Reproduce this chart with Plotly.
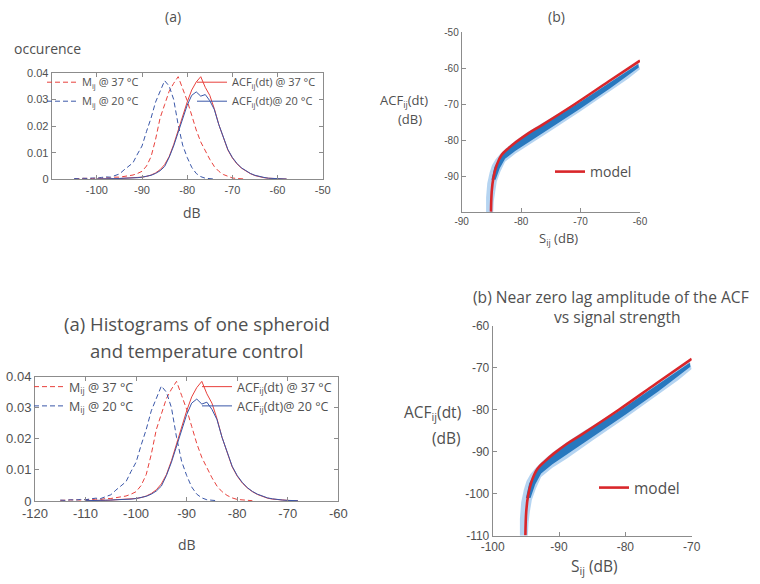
import plotly.graph_objects as go

# ---------------- data ----------------
# histogram bin centres (dB) for the upper and lower histogram panels
db_top = list(range(-105, -57))
db_bottom = list(range(-115, -67))

m_37 = [0.0002, 0.0003, 0.0002, 0.0004, 0.0003, 0.0005, 0.0004, 0.0006, 0.0005, 0.0008,
        0.0008, 0.0011, 0.0013, 0.0016, 0.0022, 0.0030, 0.0050, 0.0085, 0.0150, 0.0230,
        0.0280, 0.0330, 0.0360, 0.0385, 0.0340, 0.0295, 0.0240, 0.0185, 0.0140, 0.0105,
        0.0075, 0.0048, 0.0030, 0.0018, 0.0010, 0.0005, 0.0003, 0.0002, 0.0001, None,
        None, None, None, None, None, None, None, None]
m_20 = [0.0003, 0.0002, 0.0004, 0.0003, 0.0005, 0.0004, 0.0007, 0.0009, 0.0008, 0.0013,
        0.0020, 0.0035, 0.0048, 0.0062, 0.0095, 0.0125, 0.0180, 0.0230, 0.0290, 0.0330,
        0.0370, 0.0350, 0.0300, 0.0205, 0.0128, 0.0082, 0.0045, 0.0022, 0.0010, 0.0004,
        0.0002, 0.0001, None, None, None, None, None, None, None, None,
        None, None, None, None, None, None, None, None]
acf_37 = [None, None, None, None, None, 0.0001, 0.0002, 0.0001, 0.0002, 0.0002,
          0.0003, 0.0003, 0.0004, 0.0005, 0.0006, 0.0008, 0.0011, 0.0016, 0.0024, 0.0036,
          0.0055, 0.0085, 0.0130, 0.0185, 0.0240, 0.0290, 0.0335, 0.0365, 0.0385, 0.0345,
          0.0315, 0.0265, 0.0205, 0.0155, 0.0110, 0.0080, 0.0058, 0.0042, 0.0030, 0.0021,
          0.0014, 0.0009, 0.0006, 0.0004, 0.0003, 0.0002, 0.0001, 0.0001]
acf_20 = [None, None, None, None, None, 0.0001, 0.0001, 0.0002, 0.0002, 0.0003,
          0.0003, 0.0004, 0.0004, 0.0005, 0.0006, 0.0008, 0.0011, 0.0015, 0.0022, 0.0032,
          0.0048, 0.0082, 0.0125, 0.0178, 0.0230, 0.0278, 0.0315, 0.0328, 0.0312, 0.0318,
          0.0295, 0.0262, 0.0205, 0.0158, 0.0112, 0.0082, 0.0060, 0.0043, 0.0031, 0.0022,
          0.0015, 0.0010, 0.0007, 0.0004, 0.0003, 0.0002, 0.0001, 0.0001]

hist_yticks = [0, 0.01, 0.02, 0.03, 0.04]
hist_yticktext = ["0", "0.01", "0.02", "0.03", "0.04"]
hist_xticks_top = [-100, -90, -80, -70, -60, -50]
hist_xticks_bottom = [-120, -110, -100, -90, -80, -70, -60]
sc_xticks_top = [-90, -80, -70, -60]
sc_yticks_top = [-90, -80, -70, -60, -50]
sc_xticks_bottom = [-100, -90, -80, -70]
sc_yticks_bottom = [-110, -100, -90, -80, -70, -60]

# model curve, upper scatter panel
model_s_top = [-85.07, -84.95, -84.68, -84.1, -83.27, -82.15, -80.75, -78.8, -76.5, -70.93, -65.3, -60.0]
model_acf_top = [-99.9, -94.35, -90.6, -86.9, -84.1, -82.3, -80.4, -78.1, -75.8, -69.95, -63.7, -57.9]
# model curve, lower scatter panel
model_s_bottom = [-95.07, -94.95, -94.68, -94.1, -93.27, -92.15, -90.75, -88.8, -86.5, -80.93, -75.3, -70.0]
model_acf_bottom = [-109.9, -104.35, -100.6, -96.9, -94.1, -92.3, -90.4, -88.1, -85.8, -79.95, -73.7, -67.9]

# envelope of the measured point cloud (outer sparse region and dense core)
cloud_s_top = [-85.9, -85.9, -85.7, -85.3, -84.9, -84.3, -83.6, -82.5, -81.0, -79.0, -76.5, -73.0, -70.0, -65.0, -60.3,
               -60.0, -62.0, -65.0, -70.0, -75.0, -78.8, -81.0, -82.7, -83.5, -84.1, -84.4, -84.6, -84.7]
cloud_acf_top = [-100, -96, -92, -89, -87, -85.3, -84.0, -82.2, -80.2, -77.9, -75.3, -71.9, -68.7, -63.3, -58.4,
                 -60.3, -62.9, -66.3, -72.0, -77.4, -81.6, -83.8, -86.0, -88.8, -91.5, -94.3, -97.0, -100]
core_s_top = [-85.0, -84.5, -83.6, -82.5, -81.0, -79.0, -76.5, -73.0, -70.0, -65.0, -60.3,
              -60.2, -65.0, -70.0, -75.0, -78.8, -81.0, -82.7, -83.6, -84.3]
core_acf_top = [-91.0, -87.5, -85.0, -82.8, -80.8, -78.4, -75.9, -72.3, -69.3, -63.9, -58.8,
                -59.8, -65.6, -71.2, -76.6, -80.8, -83.0, -85.2, -87.8, -91.0]

cloud_s_bottom = [-95.9, -95.9, -95.7, -95.3, -94.9, -94.3, -93.6, -92.5, -91.0, -89.0, -86.5, -83.0, -80.0, -75.0, -70.3,
                  -70.0, -72.0, -75.0, -80.0, -85.0, -88.8, -91.0, -92.7, -93.5, -94.1, -94.4, -94.6, -94.7]
cloud_acf_bottom = [-110, -106, -102, -99, -97, -95.3, -94.0, -92.2, -90.2, -87.9, -85.3, -81.9, -78.7, -73.3, -68.4,
                    -70.3, -72.9, -76.3, -82.0, -87.4, -91.6, -93.8, -96.0, -98.8, -101.5, -104.3, -107.0, -110]
core_s_bottom = [-95.0, -94.5, -93.6, -92.5, -91.0, -89.0, -86.5, -83.0, -80.0, -75.0, -70.3,
                 -70.2, -75.0, -80.0, -85.0, -88.8, -91.0, -92.7, -93.6, -94.3]
core_acf_bottom = [-101.0, -97.5, -95.0, -92.8, -90.8, -88.4, -85.9, -82.3, -79.3, -73.9, -68.8,
                   -69.8, -75.6, -81.2, -86.6, -90.8, -93.0, -95.2, -97.8, -101.0]

# ---------------- styling ----------------
W, H = 760, 584
RED = "#E8413C"
BLUE = "#3A57A8"
MODEL_RED = "#D9262A"
CLOUD_OUT = "rgba(90,160,225,0.45)"
CLOUD_CORE = "#2878BE"
TXT = "#505050"
AXC = "#8c8c8c"
TFONT = "Open Sans, Lato, sans-serif"
NFONT = "Liberation Sans, Arial, sans-serif"


def fx(x):
    return x / W


def fy(y):
    return 1 - y / H


def labels(vals):
    return [str(v) for v in vals]


fig = go.Figure()

# histogram panels
for xa, ya, dbs, lg in [("x", "y", db_top, ("legend", "legend2")),
                        ("x3", "y3", db_bottom, ("legend3", "legend4"))]:
    fig.add_trace(go.Scatter(x=dbs, y=m_37, mode="lines", xaxis=xa, yaxis=ya,
                             line=dict(color=RED, width=1, dash="5px,3px"),
                             name="M<sub>ij</sub> @ 37 °C", legend=lg[0]))
    fig.add_trace(go.Scatter(x=dbs, y=m_20, mode="lines", xaxis=xa, yaxis=ya,
                             line=dict(color=BLUE, width=1, dash="5px,3px"),
                             name="M<sub>ij</sub> @ 20 °C", legend=lg[0]))
    fig.add_trace(go.Scatter(x=dbs, y=acf_37, mode="lines", xaxis=xa, yaxis=ya,
                             line=dict(color=RED, width=1),
                             name="ACF<sub>ij</sub>(dt) @ 37 °C", legend=lg[1]))
    fig.add_trace(go.Scatter(x=dbs, y=acf_20, mode="lines", xaxis=xa, yaxis=ya,
                             line=dict(color=BLUE, width=1),
                             name="ACF<sub>ij</sub>(dt)@ 20 °C", legend=lg[1]))

# scatter panels
for xa, ya, cs, ca, ks, ka, ms, ma, lg in [
        ("x2", "y2", cloud_s_top, cloud_acf_top, core_s_top, core_acf_top, model_s_top, model_acf_top, "legend5"),
        ("x4", "y4", cloud_s_bottom, cloud_acf_bottom, core_s_bottom, core_acf_bottom, model_s_bottom, model_acf_bottom, "legend6")]:
    fig.add_trace(go.Scatter(x=cs, y=ca, mode="lines", fill="toself", fillcolor=CLOUD_OUT,
                             line=dict(width=0, color=CLOUD_OUT), xaxis=xa, yaxis=ya,
                             showlegend=False, hoverinfo="skip"))
    fig.add_trace(go.Scatter(x=ks, y=ka, mode="lines", fill="toself", fillcolor=CLOUD_CORE,
                             line=dict(width=0, color=CLOUD_CORE), xaxis=xa, yaxis=ya,
                             showlegend=False, hoverinfo="skip"))
    fig.add_trace(go.Scatter(x=ms, y=ma, mode="lines", line=dict(color=MODEL_RED, width=2.6, shape="spline"),
                             xaxis=xa, yaxis=ya, name="model", legend=lg))

box_axis = dict(showline=True, linecolor=AXC, linewidth=1, mirror="ticks", ticks="inside",
                ticklen=4, tickcolor=AXC, showgrid=False, zeroline=False, fixedrange=True,
                automargin=False)
open_axis = dict(showline=True, linecolor=AXC, linewidth=1, mirror=False, ticks="inside",
                 ticklen=4, tickcolor=AXC, showgrid=False, zeroline=False, fixedrange=True,
                 automargin=False)

fig.update_layout(
    template="none",
    width=W, height=H, autosize=False,
    margin=dict(l=0, r=0, t=0, b=0, pad=0, autoexpand=False),
    paper_bgcolor="white", plot_bgcolor="white",
    font=dict(family=TFONT, color=TXT),
    xaxis=dict(box_axis, domain=[fx(51.7), fx(322.7)], range=[-110, -50], anchor="y",
               tickvals=hist_xticks_top, ticktext=labels(hist_xticks_top),
               tickfont=dict(family=NFONT, size=11, color=TXT)),
    yaxis=dict(box_axis, domain=[fy(179.3), fy(72.7)], range=[0, 0.04], anchor="x",
               tickvals=hist_yticks, ticktext=hist_yticktext, tickfont=dict(family=NFONT, size=11, color=TXT)),
    xaxis2=dict(open_axis, domain=[fx(461.7), fx(640)], range=[-90, -60], anchor="y2",
                tickvals=sc_xticks_top, ticktext=labels(sc_xticks_top),
                tickfont=dict(family=NFONT, size=10, color=TXT)),
    yaxis2=dict(open_axis, domain=[fy(212), fy(32.3)], range=[-100, -50], anchor="x2",
                tickvals=sc_yticks_top, ticktext=labels(sc_yticks_top),
                tickfont=dict(family=NFONT, size=10, color=TXT)),
    xaxis3=dict(box_axis, domain=[fx(35), fx(338.3)], range=[-120, -60], anchor="y3",
                tickvals=hist_xticks_bottom, ticktext=labels(hist_xticks_bottom),
                tickfont=dict(family=NFONT, size=13, color=TXT)),
    yaxis3=dict(box_axis, domain=[fy(501), fy(376.7)], range=[0, 0.04], anchor="x3",
                tickvals=hist_yticks, ticktext=hist_yticktext, tickfont=dict(family=NFONT, size=13, color=TXT)),
    xaxis4=dict(open_axis, domain=[fx(492.7), fx(691.7)], range=[-100, -70], anchor="y4",
                tickvals=sc_xticks_bottom, ticktext=labels(sc_xticks_bottom),
                tickfont=dict(family=NFONT, size=12, color=TXT)),
    yaxis4=dict(open_axis, domain=[fy(535.7), fy(325.7)], range=[-110, -60], anchor="x4",
                tickvals=sc_yticks_bottom, ticktext=labels(sc_yticks_bottom),
                tickfont=dict(family=NFONT, size=12, color=TXT)),
    showlegend=True,
)

leg_common = dict(bgcolor="rgba(0,0,0,0)", borderwidth=0, xanchor="left", yanchor="top",
                  tracegroupgap=0, itemclick=False, itemdoubleclick=False)
fig.update_layout(
    legend=dict(leg_common, x=fx(42), y=fy(67.7), font=dict(family=TFONT, size=11, color=TXT)),
    legend2=dict(leg_common, x=fx(192), y=fy(67.7), font=dict(family=TFONT, size=11, color=TXT)),
    legend3=dict(leg_common, x=fx(29), y=fy(372), font=dict(family=TFONT, size=12.5, color=TXT)),
    legend4=dict(leg_common, x=fx(197), y=fy(372), font=dict(family=TFONT, size=12.5, color=TXT)),
    legend5=dict(leg_common, x=fx(550), y=fy(156), font=dict(family=TFONT, size=14, color=TXT)),
    legend6=dict(leg_common, x=fx(594), y=fy(471), font=dict(family=TFONT, size=15.5, color=TXT)),
)

annos = [
    ("(a)", 173, 16, 14),
    ("(b)", 556, 17, 14),
    ("occurence", 47, 48, 14),
    ("dB", 192, 212, 14),
    ("(a) Histograms of one spheroid", 197, 323, 18.5),
    ("and temperature control", 197, 350, 18.5),
    ("dB", 187, 544, 14),
    ("(b) Near zero lag amplitude of the ACF", 611, 297, 15.6),
    ("vs signal strength", 617, 317, 15.6),
    ("ACF<sub>ij</sub>(dt)", 404, 101, 13),
    ("(dB)", 410, 119, 13),
    ("S<sub>ij</sub> (dB)", 558, 239, 13),
    ("ACF<sub>ij</sub>(dt)", 432, 412, 15.5),
    ("(dB)", 446, 438, 15.5),
    ("S<sub>ij</sub> (dB)", 594, 566, 15.5),
]
for text, x, y, size in annos:
    fig.add_annotation(text=text, x=fx(x), y=fy(y), xref="paper", yref="paper",
                       xanchor="center", yanchor="middle", showarrow=False,
                       font=dict(family=TFONT, size=size, color=TXT))

# the page body must not add its default 8px margin around the 760x584 figure
fig.write_html("out.html",
               config={"displayModeBar": False},
               post_script="document.body.style.margin='0px';"
                           "document.documentElement.style.overflow='hidden';")
